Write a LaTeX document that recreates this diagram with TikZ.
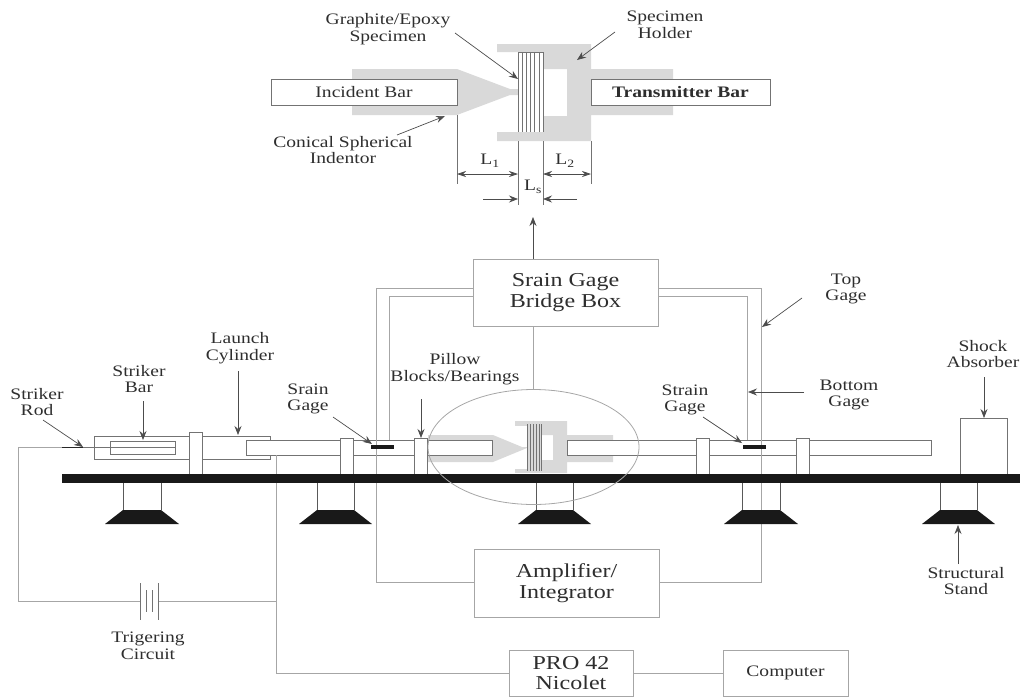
\documentclass[tikz,border=0pt]{standalone}
\usepackage{fontspec}
\setmainfont[FakeStretch=1.22]{Liberation Serif}
\usetikzlibrary{arrows.meta, shapes.geometric}

\definecolor{linegray}{gray}{0.45}
\definecolor{wiregray}{gray}{0.65}
\definecolor{bargray}{gray}{0.85}
\definecolor{inkgray}{gray}{0.18}

\begin{document}
\begin{tikzpicture}[
    x=1pt, y=-1pt,
    box/.style={
      draw=linegray,
      line width=1pt,
      fill=white,
      align=center,
      inner sep=0pt,
      outer sep=0pt,
      text=inkgray,
      font=\fontsize{16}{16.7}\selectfont
    },
    bigbox/.style={box, draw=wiregray, font=\fontsize{19.7}{20.5}\selectfont},
    caption/.style={align=center, inner sep=0pt, text=inkgray, font=\fontsize{16}{16.7}\selectfont},
    wire/.style={draw=wiregray, line width=1pt},
    arrow/.style={-{Stealth[length=9pt,width=7pt,inset=3pt]}, draw=black!70, line width=0.7pt},
    dimline/.style={draw=linegray, line width=0.7pt},
    dimarrow/.style={{Stealth[length=9pt,width=6pt,inset=3pt]}-{Stealth[length=9pt,width=6pt,inset=3pt]}, draw=black!70, line width=0.7pt}
  ]
    \useasboundingbox (0,0) rectangle (1020,697);

    % detail view at the top
    \fill[bargray] (352,69) -- (457,69) -- (510,89) -- (518,89) -- (518,95) -- (510,95) -- (457,115) -- (352,115) -- cycle;
    \fill[bargray] (497,44) -- (591,44) -- (591,69) -- (673,69) -- (673,115) -- (591,115) -- (591,141) -- (497,141) -- (497,132) -- (543,132) -- (543,116) -- (567,116) -- (567,69) -- (543,69) -- (543,52) -- (497,52) -- cycle;
    \foreach \xpos in {518,522.2,526.4,530.6,534.8,539,543}
      \draw[dimline] (\xpos,52) -- (\xpos,132);
    \draw[dimline] (518,52) -- (543,52);
    \node[box, minimum width=186pt, minimum height=26pt] (incident) at (364,92) {Incident Bar};
    \node[box, minimum width=179pt, minimum height=26pt] (transmitter) at (680.5,92) {\textbf{Transmitter Bar}};

    % dimension lines
    \coordinate (dimA) at (457,115);
    \coordinate (dimAb) at (457,184);
    \coordinate (dimB) at (518,141);
    \coordinate (dimBb) at (518,205);
    \coordinate (dimC) at (543,141);
    \coordinate (dimCb) at (543,205);
    \coordinate (dimD) at (591,141);
    \coordinate (dimDb) at (591,184);
    \draw[dimline] (dimA) -- (dimAb);
    \draw[dimline] (dimB) -- (dimBb);
    \draw[dimline] (dimC) -- (dimCb);
    \draw[dimline] (dimD) -- (dimDb);
    \draw[dimarrow] (457,174) -- (518,174);
    \draw[dimarrow] (543,174) -- (591,174);
    \draw[arrow] (483,199) -- (518,199);
    \draw[arrow] (577,199) -- (543,199);
    \node[caption] (lone) at (490,161) {L\textsubscript{1}};
    \node[caption] (ltwo) at (565,161) {L\textsubscript{2}};
    \node[caption] (lsmp) at (533,187) {L\textsubscript{s}};

    % main bars, under the posts and wires
    \node[box, minimum width=176pt, minimum height=23pt] (cylinder) at (182,447.5) {};
    \node[box, minimum width=65pt, minimum height=13pt] (striker) at (142.5,447.5) {};
    \fill[bargray] (428,435) -- (493,435) -- (522,447) -- (527,447) -- (527,448) -- (493,462) -- (428,462) -- cycle;
    \fill[bargray] (515,421) rectangle (567,426);
    \fill[bargray] (515,469) rectangle (567,473);
    \fill[bargray] (527,424) rectangle (541,471);
    \fill[bargray] (541,421) -- (567,421) -- (567,435) -- (613,435) -- (613,462) -- (567,462) -- (567,473) -- (541,473) -- (541,460) -- (553,460) -- (553,435) -- (541,435) -- cycle;
    \foreach \xpos in {527,530,533,536,539,541}
      \draw[draw=linegray, line width=0.6pt] (\xpos,424) -- (\xpos,471);
    \node[box, minimum width=246pt, minimum height=15pt] (leftbar) at (369,447.5) {};
    \node[box, minimum width=364pt, minimum height=15pt] (rightbar) at (749,447.5) {};

    \foreach \xpos/\ypos/\tall [count=\n] in {195.5/453/42,346.5/456/36,420.5/456/36,702.5/456/36,802.5/456/36}
      \node[box, minimum width=13pt, minimum height=\tall pt] (post\n) at (\xpos,\ypos) {};
    \node[box, minimum width=47pt, minimum height=56pt] (absorber) at (983.5,446) {};

    % boxes
    \node[bigbox, minimum width=185pt, minimum height=67pt] (bridge) at (565.5,292.5) {Srain Gage\\Bridge Box};
    \node[bigbox, minimum width=185pt, minimum height=68pt] (amplifier) at (566.5,583) {Amplifier/\\Integrator};
    \node[bigbox, minimum width=124pt, minimum height=46pt] (nicolet) at (571,673) {PRO 42\\Nicolet};
    \node[box, draw=wiregray, minimum width=125pt, minimum height=46pt] (computer) at (785.5,673) {Computer};

    % gage wiring
    \coordinate (outerL) at (376,288);
    \coordinate (outerLb) at (376,582);
    \coordinate (outerR) at (761,288);
    \coordinate (outerRb) at (761,582);
    \coordinate (innerL) at (389,296);
    \coordinate (innerLb) at (389,440);
    \coordinate (innerR) at (747,296);
    \coordinate (innerRb) at (747,440);
    \coordinate (ellipseTop) at (533,389);
    \draw[wire] (bridge.west |- outerL) -- (outerL) -- (outerLb) -- (amplifier.west |- outerLb);
    \draw[wire] (bridge.east |- outerR) -- (outerR) -- (outerRb) -- (amplifier.east |- outerRb);
    \draw[wire] (bridge.west |- innerL) -- (innerL) -- (innerLb);
    \draw[wire] (bridge.east |- innerR) -- (innerR) -- (innerRb);
    \draw[wire] (bridge.south -| ellipseTop) -- (ellipseTop);
    \coordinate (arrowTop) at (533,217);
    \draw[arrow] (bridge.north -| arrowTop) -- (arrowTop);

    % trigger circuit and recorder
    \coordinate (rodEnd) at (62,447);
    \coordinate (rodMid) at (83,447);
    \coordinate (rodTip) at (175,447);
    \coordinate (trigTop) at (18,447);
    \coordinate (trigBot) at (18,601);
    \coordinate (battL) at (140,601);
    \coordinate (battR) at (158,601);
    \coordinate (junction) at (276,601);
    \coordinate (barTap) at (276,455);
    \coordinate (proTap) at (276,673);
    \draw[wire] (rodEnd) -- (trigTop) -- (trigBot) -- (battL);
    \draw[wire] (battR) -- (junction);
    \draw[wire] (barTap) -- (proTap) -- (nicolet.west);
    \draw[wire] (nicolet.east) -- (computer.west);
    \draw[dimline] (140,583) -- (140,620);
    \draw[dimline] (146,590) -- (146,612);
    \draw[dimline] (152,590) -- (152,612);
    \draw[dimline] (158,583) -- (158,620);
    \draw[draw=linegray, line width=0.9pt] (rodMid) -- (rodTip);
    \draw[draw=black!85, line width=1pt] (rodEnd) -- (rodMid);

    % table and stands
    \foreach \xa/\xb in {123/161,317/354,536/573,742/780,940/977} {
      \draw[draw=black!65, line width=1pt] (\xa,483) -- (\xa,510);
      \draw[draw=black!65, line width=1pt] (\xb,483) -- (\xb,510);
      \fill[black!90] (\xa,510) -- (\xb,510) -- (\xb+18,524) -- (\xa-18,524) -- cycle;
    }
    \fill[black!90] (62,474) rectangle (1020,483);
    \fill[black!90] (371,445) rectangle (394,449);
    \fill[black!90] (743,445) rectangle (766,449);
    \node[draw=wiregray, line width=0.8pt, ellipse, minimum width=211pt, minimum height=115pt, inner sep=0pt] (blowup) at (533.5,447) {};

    % labels
    \node[caption] (graphite) at (388,29) {Graphite/Epoxy\\Specimen};
    \node[caption] (holder) at (665,25) {Specimen\\Holder};
    \node[caption] (conical) at (343,150) {Conical Spherical\\Indentor};
    \node[caption] (topgage) at (846,289) {Top\\Gage};
    \node[caption] (bottomgage) at (849,395) {Bottom\\Gage};
    \node[caption] (straingage) at (685,400) {Strain\\Gage};
    \node[caption] (shock) at (983,354) {Shock\\Absorber};
    \node[caption] (structural) at (966,581) {Structural\\Stand};
    \node[caption] (trigering) at (148,646) {Trigering\\Circuit};
    \node[caption] (rod) at (37,402) {Striker\\Rod};
    \node[caption] (barlabel) at (139,379) {Striker\\Bar};
    \node[caption] (launch) at (240,348) {Launch\\Cylinder};
    \node[caption] (sraingage) at (308,399) {Srain\\Gage};
    \node[caption] (pillow) at (455,369) {Pillow\\Blocks/Bearings};

    \draw[arrow] (455,33) -- (518,79);
    \draw[arrow] (615,32) -- (577,60);
    \draw[arrow] (397,135) -- (445,116);
    \draw[arrow] (802,298) -- (762,327);
    \draw[arrow] (804,392) -- (748,392);
    \draw[arrow] (703,417) -- (742,443);
    \draw[arrow] (984,377) -- (984,418);
    \draw[arrow] (958,564) -- (958,525);
    \draw[arrow] (43,420) -- (83,447);
    \draw[arrow] (143,401) -- (143,440);
    \draw[arrow] (238,371) -- (238,435);
    \draw[arrow] (333,417) -- (372,444);
    \draw[arrow] (421,399) -- (421,438);
  \end{tikzpicture}
\end{document}
